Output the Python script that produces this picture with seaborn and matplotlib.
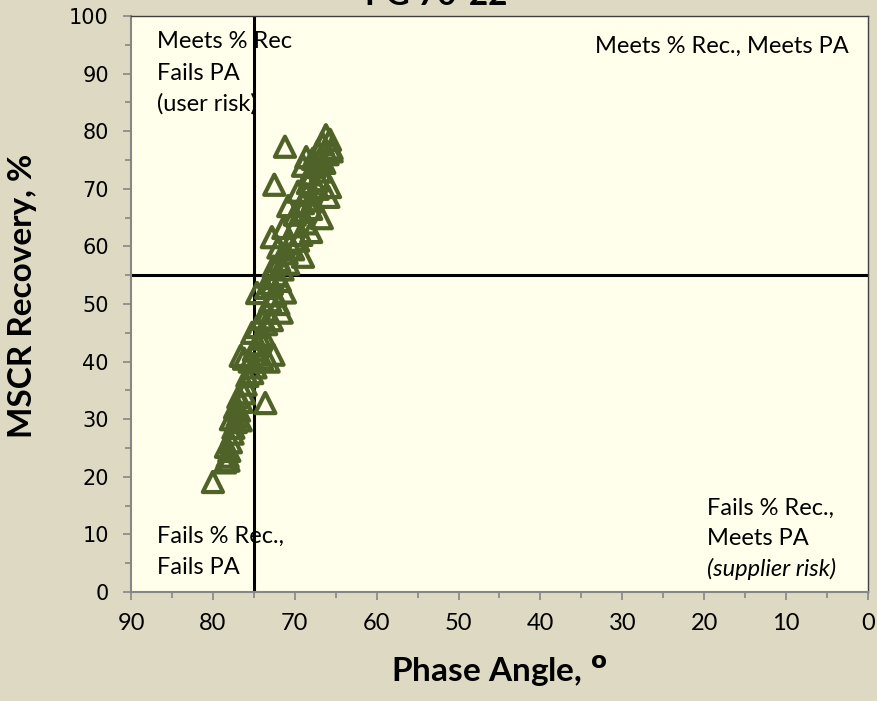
import matplotlib
matplotlib.use("Agg")
import matplotlib.pyplot as plt
import seaborn as sns
import pandas as pd
from matplotlib.ticker import MultipleLocator

# Phase angle (deg) and MSCR recovery (%)
phase_angle = [80.0, 78.5, 78.2, 78.0, 78.4, 77.8, 78.1, 77.6,
               77.5, 77.2, 77.0, 76.8, 77.3, 76.5, 76.9, 76.2, 73.6, 77.8, 76.6,
               76.0, 75.8, 75.2, 74.8, 76.2, 76.6, 75.5, 74.0, 73.2, 72.6, 75.0, 74.5, 74.2, 73.8, 75.2,
               74.6, 73.5, 72.8, 74.0, 73.4, 71.6, 72.0, 73.0, 72.4, 74.6, 71.2, 73.5, 72.8, 71.8, 72.2, 73.1,
               71.5, 72.6, 70.8, 71.9, 69.0, 71.0, 70.2, 72.0, 70.6, 69.6, 72.8, 71.4, 69.2, 68.0, 70.0, 68.6, 66.7,
               70.0, 69.2, 68.0, 70.8, 69.0, 67.8, 65.9, 68.6, 69.6, 67.2, 65.7, 72.5, 68.4, 67.0,
               68.2, 66.8, 67.6, 69.0, 66.4, 67.8, 68.6, 66.0, 67.2, 65.5, 71.2, 66.6, 65.7, 66.2, 65.5, 67.0]
recovery = [19.1, 22.5, 23.5, 24.5, 25.2, 26.0, 22.8, 27.5,
            28.5, 29.5, 30.5, 31.5, 32.0, 33.0, 33.8, 34.5, 32.8, 30.0, 29.8,
            36.0, 37.5, 38.0, 39.0, 40.5, 41.0, 40.0, 40.5, 40.0, 41.2, 42.0, 43.0, 44.0, 44.5, 45.0,
            46.0, 46.5, 47.2, 47.5, 48.5, 48.5, 50.0, 50.5, 51.5, 51.9, 52.0, 52.8, 53.5, 54.0, 55.0, 54.5,
            56.0, 56.5, 57.0, 57.5, 58.2, 58.8, 59.5, 59.8, 60.5, 61.0, 61.6, 63.2, 62.0, 62.5, 63.5, 64.0, 64.9,
            65.5, 66.0, 66.5, 67.0, 67.5, 68.0, 68.6, 69.0, 69.5, 70.0, 70.3, 70.7, 71.0, 71.5,
            72.5, 73.0, 73.8, 74.0, 74.5, 75.2, 75.5, 76.0, 76.5, 77.0, 77.3, 77.8, 78.5, 79.3, 76.5, 75.0]

pa_limit = 75
rec_limit = 55

df = pd.DataFrame({'Phase Angle': phase_angle, 'Recovery': recovery})

sns.set_style('white')
plt.rcParams['text.color'] = 'black'
plt.rcParams['xtick.labelcolor'] = 'black'
plt.rcParams['ytick.labelcolor'] = 'black'
plt.rcParams['axes.labelcolor'] = 'black'

fig = plt.figure(figsize=(8.77, 7.01), dpi=100, facecolor='#DDD9C3')
ax = fig.add_axes([0.1494, 0.1555, 0.8403, 0.8217])
ax.set_facecolor('#FFFFEB')

sns.scatterplot(data=df, x='Phase Angle', y='Recovery', marker='^', s=210,
                facecolor='none', edgecolor='#4F6228', linewidth=3, ax=ax, zorder=3)

ax.axvline(pa_limit, color='black', lw=2.2, zorder=2)
ax.axhline(rec_limit, color='black', lw=2.2, zorder=2)

ax.set_xlim(90, 0)
ax.set_ylim(0, 100)
ax.xaxis.set_major_locator(MultipleLocator(10))
ax.xaxis.set_minor_locator(MultipleLocator(5))
ax.yaxis.set_major_locator(MultipleLocator(10))
ax.yaxis.set_minor_locator(MultipleLocator(5))
ax.tick_params(which='both', direction='out', color='#868686', left=True, bottom=True)
ax.tick_params(which='major', length=6, width=1.2)
ax.tick_params(which='minor', length=4, width=1.2)
ax.tick_params(axis='y', labelsize=15, pad=10)
ax.tick_params(axis='x', labelsize=17, pad=9)
for lab in ax.get_xticklabels():
    lab.set_fontfamily('Lato')

for side in ['left', 'bottom']:
    ax.spines[side].set_color('#868686')
    ax.spines[side].set_linewidth(1.5)
for side in ['top', 'right']:
    ax.spines[side].set_color('#404040')
    ax.spines[side].set_linewidth(1)

ax.set_xlabel('Phase Angle, $^\\mathbf{o}$', fontsize=24, fontweight='bold', family='Lato', labelpad=14)
ax.set_ylabel('MSCR Recovery, %', fontsize=24, fontweight='bold', family='Lato')
ax.yaxis.set_label_coords(-0.128, 0.514)

# quadrant notes
note = dict(fontsize=17, family='Lato', va='center')
ax.text(86.8, 95.5, 'Meets % Rec', **note)
ax.text(86.8, 90.0, 'Fails PA', **note)
ax.text(86.8, 84.7, '(user risk)', **note)
ax.text(2.3, 94.8, 'Meets % Rec., Meets PA', ha='right', **note)
ax.text(86.8, 9.6, 'Fails % Rec.,', **note)
ax.text(86.8, 4.3, 'Fails PA', **note)
ax.text(19.6, 14.6, 'Fails % Rec.,', **note)
ax.text(19.6, 9.3, 'Meets PA', **note)
ax.text(19.6, 4.0, '(supplier risk)', style='italic', **note)

fig.text(507 / 877, 1 - 5 / 701, 'PG 70-22', ha='right', va='baseline',
         fontsize=24, fontweight='bold', family='Lato')

fig.savefig('out.png', dpi=100, facecolor=fig.get_facecolor())
